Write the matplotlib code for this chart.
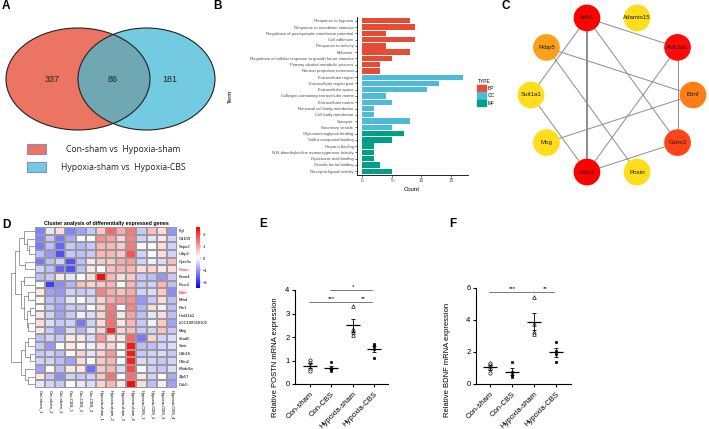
import numpy as np
import matplotlib.pyplot as plt
from matplotlib.patches import Ellipse, Rectangle, Circle, Patch
from matplotlib.colors import LinearSegmentedColormap

plt.rcParams['font.family'] = ['Liberation Sans', 'DejaVu Sans']

W, H = 709, 429

# ---------------- data ----------------
# A: overlap of differentially expressed genes
venn_counts = [337, 86, 181]
venn_names = ['Con-sham vs  Hypoxia-sham', 'Hypoxia-sham vs  Hypoxia-CBS']

# B: GO enrichment
go_terms = [
    'Response to hypoxia', 'Response to xenobiotic stimulus',
    'Regulation of postsynaptic membrane potential', 'Cell adhesion',
    'Response to activity', 'Behavior',
    'Regulation of cellular response to growth factor stimulus',
    'Primary alcohol metabolic process', 'Neuron projection extension',
    'Extracellular region', 'Extracellular region part', 'Extracellular space',
    'Collagen-containing extracellular matrix', 'Extracellular matrix',
    'Neuronal cell body membrane', 'Cell body membrane', 'Synapse',
    'Secretory vesicle', 'Glycosaminoglycan binding', 'Sulfur compound binding',
    'Heparin binding', 'N,N-dimethylaniline monooxygenase activity',
    'Hyaluronic acid binding', 'Growth factor binding', 'Receptor ligand activity']
go_counts = [8, 9, 4, 9, 4, 8, 5, 3, 3, 17, 13, 11, 4, 5, 2, 2, 8, 5,
             7, 5, 2, 2, 2, 3, 5]
go_types = ['BP'] * 9 + ['CC'] * 9 + ['MF'] * 7

# C: PPI network, nodes in circular layout order
ppi_nodes = ['Bdnf', 'Aldh3a1', 'Adamts15', 'Adh1', 'Fkbp5',
             'Sult1a1', 'Mog', 'Gsta1', 'Postn', 'Gstm3']
ppi_edges = [('Adh1', 'Aldh3a1'), ('Adh1', 'Gsta1'), ('Adh1', 'Gstm3'),
             ('Adh1', 'Sult1a1'), ('Fkbp5', 'Bdnf'), ('Fkbp5', 'Postn'),
             ('Aldh3a1', 'Gstm3'), ('Aldh3a1', 'Gsta1'), ('Bdnf', 'Mog'),
             ('Sult1a1', 'Gsta1'), ('Gsta1', 'Gstm3')]

# D: heatmap
genes = ['Fgl', 'Cd109', 'Sspo2', 'Ulbp2', 'Gprc5c', 'Postn', 'Kcne4', 'Flvcr2',
         'Bdnf', 'Mmd', 'Rin1', 'Hsd11b2', 'LOC108350102', 'Mog', 'Scad5',
         'Sost', 'Cdh16', 'Olfm2', 'Klhdc8a', 'Zfp57', 'Dok5']
samples = ['Con-sham_1', 'Con-sham_2', 'Con-sham_3', 'Con-CBS_1', 'Con-CBS_2',
           'Con-CBS_3', 'Hypoxia-sham_1', 'Hypoxia-sham_2', 'Hypoxia-sham_3',
           'Hypoxia-sham_4', 'Hypoxia-CBS_1', 'Hypoxia-CBS_2', 'Hypoxia-CBS_3',
           'Hypoxia-CBS_4']
expr = [
    [-1.2, -0.2, 0.4, -1.2, -0.9, -0.5, 0.6, 1.6, 0.9, 1.4, -0.5, 0.7, 0.4, -1.0],
    [-1.2, -0.5, -1.3, -0.8, 0.0, 0.1, 1.2, 1.0, 0.5, 1.3, -0.4, -0.2, 0.3, -0.4],
    [-1.3, -0.6, -1.5, -0.5, -0.7, -0.5, 0.8, 0.8, 0.6, 1.4, 0.1, 0.0, 0.4, -0.4],
    [-0.6, -1.0, -1.7, -0.5, -0.6, -0.5, 0.8, 0.8, 0.6, 1.8, -0.4, 0.0, 0.4, -0.4],
    [-1.3, -0.6, -0.4, -1.7, -0.6, 0.3, 0.6, 0.6, 0.9, 1.0, -0.4, -0.1, -0.3, 0.7],
    [-0.4, -0.6, -1.5, -1.7, -0.6, 0.3, 0.0, 0.7, 0.8, 0.8, 0.4, 0.5, 0.3, 0.4],
    [-0.6, -0.5, 0.3, -0.2, 0.0, 0.4, 2.5, 0.8, 0.4, 0.6, -0.5, -0.6, -1.0, -0.5],
    [0.0, -1.9, -1.1, -0.7, 0.7, 0.5, 0.6, 0.8, 0.1, 0.8, -0.5, -0.4, 0.8, -0.6],
    [0.3, -0.9, -1.0, -0.4, -0.5, -0.4, 1.3, 0.9, 0.7, 0.9, -0.4, -0.3, 0.6, -1.1],
    [0.1, -0.6, -0.7, -0.2, 0.0, -0.3, 0.5, 0.9, 1.1, 1.2, -1.0, -0.5, 0.4, -0.6],
    [0.1, -0.5, -0.9, -0.5, -0.5, 0.0, 0.5, 1.4, 0.0, 1.3, -0.7, 0.4, -0.1, -0.6],
    [0.3, -0.4, -0.9, -0.5, -0.1, -0.3, 0.5, 1.5, 0.3, 1.0, -0.6, -0.2, 0.4, -0.6],
    [0.4, -0.3, -0.5, -0.4, -1.3, -0.4, 0.4, 1.5, 0.3, 0.8, -0.5, -0.1, 0.6, -0.9],
    [0.3, -0.5, -1.0, -0.3, -0.7, -0.2, 0.5, 2.3, 0.5, 0.7, -0.5, -0.4, 0.7, -0.5],
    [-0.6, -0.4, -0.5, 0.3, 0.3, -0.3, 1.1, 0.4, 0.3, 1.6, -1.3, 0.5, -0.4, -0.3],
    [-0.5, -1.0, 0.0, 0.3, 0.0, -0.1, 0.4, 0.5, 0.1, 2.4, -0.6, -0.6, -0.4, -0.3],
    [-0.5, -0.4, -0.6, 0.0, 0.5, -0.2, 0.5, 1.1, 0.0, 2.4, -0.5, -0.4, -0.3, -0.5],
    [-0.4, -0.4, -0.6, -0.9, 0.4, 0.0, 0.6, 0.8, 0.0, 2.3, -0.3, -0.4, -0.5, -0.4],
    [-0.9, 0.1, -0.6, 0.3, 0.3, -1.4, 0.6, 0.8, -0.3, 1.9, 0.0, -0.4, -0.5, -0.3],
    [0.3, -0.5, -1.1, -0.4, -0.5, -0.4, 0.6, 1.5, 0.0, 1.5, 0.3, -0.4, 0.1, -0.8],
    [-0.2, -0.4, -0.5, 0.0, -0.2, -0.3, 0.5, 0.8, 0.3, 2.5, 0.4, -0.6, -0.1, -0.9],
]
# row dendrogram: (left, right, height), leaves 0..20 in display order
row_merges = [
    (2, 3, 0.25), (1, 21, 0.35), (0, 22, 0.45), (4, 5, 0.40), (23, 24, 0.65),
    (6, 7, 0.45), (8, 9, 0.30), (10, 11, 0.20), (12, 13, 0.30), (28, 29, 0.35),
    (27, 30, 0.45), (26, 31, 0.60), (25, 32, 0.85), (14, 15, 0.30),
    (16, 17, 0.20), (34, 35, 0.40), (19, 20, 0.30), (18, 37, 0.40),
    (36, 38, 0.60), (33, 39, 1.00),
]

# E, F: qPCR
groups = ['Con-sham', 'Con-CBS', 'Hypoxia-sham', 'Hypoxia-CBS']
postn = [[1.02, 0.90, 0.62, 0.55], [0.93, 0.70, 0.62, 0.55],
         [3.33, 2.35, 2.20, 2.10], [1.72, 1.60, 1.50, 1.12]]
bdnf = [[1.33, 1.19, 0.94, 0.67], [1.35, 0.72, 0.55, 0.45],
        [5.45, 3.75, 3.25, 3.10], [2.65, 2.05, 1.85, 1.35]]
postn_sig = [('***', 0, 2, 3.5), ('**', 2, 3, 3.5), ('*', 1, 3, 4.0)]
bdnf_sig = [('***', 0, 2, 5.75), ('**', 2, 3, 5.75)]


def px_axes(fig, x0, y0, x1, y1):
    return fig.add_axes([x0 / W, 1 - y1 / H, (x1 - x0) / W, (y1 - y0) / H])


def draw_dendrogram(ax, merges, n_leaves):
    ypos = {i: i + 0.5 for i in range(n_leaves)}
    hgt = {i: 0.0 for i in range(n_leaves)}
    for k, (a, b, h) in enumerate(merges):
        ax.plot([hgt[a], h, h, hgt[b]], [ypos[a], ypos[a], ypos[b], ypos[b]],
                color='#555555', lw=0.4)
        ypos[n_leaves + k] = (ypos[a] + ypos[b]) / 2
        hgt[n_leaves + k] = h


def draw_qpcr(ax, values, ymax, ylabel, sigs, xlim, label_xy):
    markers = ['o', 's', '^', 'o']
    faces = ['white', 'black', 'white', 'black']
    sizes = [2.4, 2.0, 2.6, 1.8]
    for i, vals in enumerate(values):
        vals = np.asarray(vals)
        m = vals.mean()
        sem = vals.std(ddof=1) / np.sqrt(len(vals))
        ax.plot(np.full(len(vals), i), vals, ls='none', marker=markers[i],
                ms=sizes[i], mfc=faces[i], mec='black', mew=0.45, zorder=3)
        ax.hlines(m, i - 0.33, i + 0.33, color='black', lw=0.9, zorder=4)
        ax.errorbar(i, m, yerr=sem, fmt='none', ecolor='black', elinewidth=0.6,
                    capsize=1.6, capthick=0.6, zorder=4)
    for txt, a, b, y in sigs:
        ax.plot([a - 0.05, b - 0.08], [y, y], color='#444444', lw=0.5, clip_on=False)
        ax.text((a + b) / 2, y + ymax * 0.01, txt, ha='center', va='bottom',
                fontsize=4.5, clip_on=False)
    ax.set_xlim(*xlim)
    ax.set_ylim(0, ymax)
    ax.set_yticks(np.arange(0, ymax + 0.1, 1 if ymax < 5 else 2))
    ax.set_xticks(range(len(groups)))
    ax.set_xticklabels(groups, rotation=45, ha='right', va='top',
                       rotation_mode='anchor', fontsize=5.5)
    ax.tick_params(axis='y', labelsize=5.5, length=2.5, width=0.8, pad=1.5)
    ax.tick_params(axis='x', length=2.5, width=0.8, pad=2)
    for s in ['top', 'right']:
        ax.spines[s].set_visible(False)
    for s in ['left', 'bottom']:
        ax.spines[s].set_linewidth(0.8)
    ax.set_ylabel(ylabel, fontsize=5.5)
    ax.yaxis.set_label_coords(*label_xy)


fig = plt.figure(figsize=(W / 100, H / 100), dpi=100)

# panel letters
for letter, x, y in [('A', 6, 6), ('B', 217, 6), ('C', 506, 6),
                     ('D', 6, 225), ('E', 263, 224), ('F', 453, 224)]:
    fig.text(x / W, 1 - y / H, letter, fontsize=8.5, weight='bold',
             ha='center', va='center')

# ---------------- A: venn ----------------
ax = px_axes(fig, 0, 0, 230, 200)
ax.set_xlim(0, 230)
ax.set_ylim(200, 0)
ax.axis('off')
c_left, c_right, c_both = '#EC7462', '#72CBE0', '#6FA7B3'
venn_shapes = [(78, 144), (146.5, 137)]
e_l = Ellipse((venn_shapes[0][0], 79), venn_shapes[0][1], 102, fc=c_left, ec='none')
e_r = Ellipse((venn_shapes[1][0], 79), venn_shapes[1][1], 102, fc=c_right, ec='none')
ax.add_patch(e_l)
ax.add_patch(e_r)
lens = Ellipse((venn_shapes[0][0], 79), venn_shapes[0][1], 102, fc=c_both, ec='none')
ax.add_patch(lens)
lens.set_clip_path(e_r)
for cx, w in venn_shapes:
    ax.add_patch(Ellipse((cx, 79), w, 102, fc='none', ec='#222222', lw=0.8))
for x, v in zip([52, 113, 170], venn_counts):
    ax.text(x, 80, str(v), fontsize=6.5, ha='center', va='center', color='#222222')
for k, (name, col) in enumerate(zip(venn_names, [c_left, c_right])):
    y = 144 + 18 * k
    ax.add_patch(Rectangle((27, y), 19, 10, fc=col, ec='#8A8AC8', lw=0.8))
    ax.text(123, y + 5.5, name, fontsize=6.2, ha='center', va='center',
            family=['Open Sans', 'DejaVu Sans'], color='#222222')

# ---------------- B: GO bars ----------------
type_colors = {'BP': '#E64B35', 'CC': '#4DBBD5', 'MF': '#00A087'}
ax = px_axes(fig, 357, 17, 468, 175)
yy = np.arange(len(go_terms))
ax.barh(yy, go_counts, height=0.85, color=[type_colors[t] for t in go_types])
ax.set_ylim(len(go_terms) - 0.4, -0.6)
ax.set_xlim(-0.85, 17.85)
ax.set_yticks(yy)
ax.set_yticklabels(go_terms, fontsize=3.1, color='#4D4D4D')
ax.set_xticks([0, 5, 10, 15])
ax.tick_params(axis='x', labelsize=3.4, labelcolor='#4D4D4D', length=1.5, width=0.4, pad=1)
ax.tick_params(axis='y', length=1.5, width=0.4, pad=1)
for s in ['top', 'right']:
    ax.spines[s].set_visible(False)
for s in ['left', 'bottom']:
    ax.spines[s].set_linewidth(0.6)
ax.set_xlabel('Count', fontsize=4.3)
ax.set_ylabel('Term', fontsize=4.3)
ax.xaxis.set_label_coords(0.495, -0.075)
ax.yaxis.set_label_coords(-1.12, 0.5)
handles = [Patch(color=type_colors[t], label=t) for t in ['BP', 'CC', 'MF']]
ax.legend(handles=handles, title='TYPE', loc='upper left',
          bbox_to_anchor=(475 / W, 1 - 77 / H), bbox_transform=fig.transFigure,
          frameon=False, fontsize=3.5, title_fontsize=3.5, handlelength=1.7,
          handleheight=1.7, handletextpad=0.5, labelspacing=0.15,
          alignment='left', borderpad=0)

# ---------------- C: network ----------------
node_color = {'Adh1': '#FF0000', 'Aldh3a1': '#FF0A0A', 'Gsta1': '#FF0000',
              'Gstm3': '#FF4517', 'Bdnf': '#FF7E17', 'Fkbp5': '#F9A11B',
              'Adamts15': '#FFDD1A', 'Sult1a1': '#FFDD1A', 'Mog': '#FFDD1A',
              'Postn': '#FFDD1A'}
ax = px_axes(fig, 480, 0, 709, 200)
ax.set_xlim((480 - 612) / 81, (709 - 612) / 81)
ax.set_ylim((95 - 200) / 81, 95 / 81)
ax.axis('off')
ang = 2 * np.pi * np.arange(len(ppi_nodes)) / len(ppi_nodes)
pos = {n: (np.cos(a), np.sin(a)) for n, a in zip(ppi_nodes, ang)}
for a, b in ppi_edges:
    lw = 1.4 if {a, b} == {'Adh1', 'Gsta1'} else 0.7
    ax.plot([pos[a][0], pos[b][0]], [pos[a][1], pos[b][1]],
            color='#8C8C8C', lw=lw, zorder=1)
for n in ppi_nodes:
    ax.add_patch(Circle(pos[n], 0.165, fc=node_color[n], ec='none', zorder=2))
    ax.text(pos[n][0], pos[n][1], n, fontsize=4.4, ha='center', va='center',
            color='#1A1A1A', zorder=3)

# ---------------- D: heatmap ----------------
expr = np.array(expr)
cmap = LinearSegmentedColormap.from_list('bwr_ph', ['#0000FF', '#FFFFFF', '#FF0000'])
ax = px_axes(fig, 35, 227, 177, 388)
mesh = ax.pcolormesh(expr, cmap=cmap, vmin=-2.5, vmax=2.6,
                     edgecolors='#9A9A9A', linewidth=0.25)
ax.set_xlim(0, len(samples))
ax.set_ylim(len(genes), 0)
ax.yaxis.tick_right()
ax.set_yticks(np.arange(len(genes)) + 0.5)
ax.set_yticklabels(genes, fontsize=3)
for t in ax.get_yticklabels():
    if t.get_text() in ('Postn', 'Bdnf'):
        t.set_color('red')
ax.set_xticks(np.arange(len(samples)) + 0.5)
ax.set_xticklabels(samples, rotation=270, fontsize=3)
ax.tick_params(length=0, pad=1.5)
for s in ax.spines.values():
    s.set_visible(False)
fig.text(106 / W, 1 - 223 / H, 'Cluster analysis of differentially expressed genes',
         fontsize=3.8, weight='bold', ha='center', va='center')

dax = px_axes(fig, 11, 227, 35, 388)
draw_dendrogram(dax, row_merges, len(genes))
dax.set_xlim(1.0, 0)
dax.set_ylim(len(genes), 0)
dax.axis('off')

cax = px_axes(fig, 196, 227, 200, 288)
cb = fig.colorbar(mesh, cax=cax, ticks=[-2, -1, 0, 1, 2])
cb.outline.set_visible(False)
cax.tick_params(labelsize=3, length=1, width=0.3, pad=1)

# ---------------- E, F: qPCR ----------------
ax = px_axes(fig, 295, 290, 388, 384)
draw_qpcr(ax, postn, 4, 'Relative POSTN mRNA expression', postn_sig,
          (-0.7, 3.66), (-0.17, 0.28))
ax = px_axes(fig, 476, 288, 571, 384)
draw_qpcr(ax, bdnf, 6, 'Relative BDNF mRNA expression', bdnf_sig,
          (-0.64, 3.68), (-0.26, 0.25))

fig.savefig('out.png', dpi=100)
